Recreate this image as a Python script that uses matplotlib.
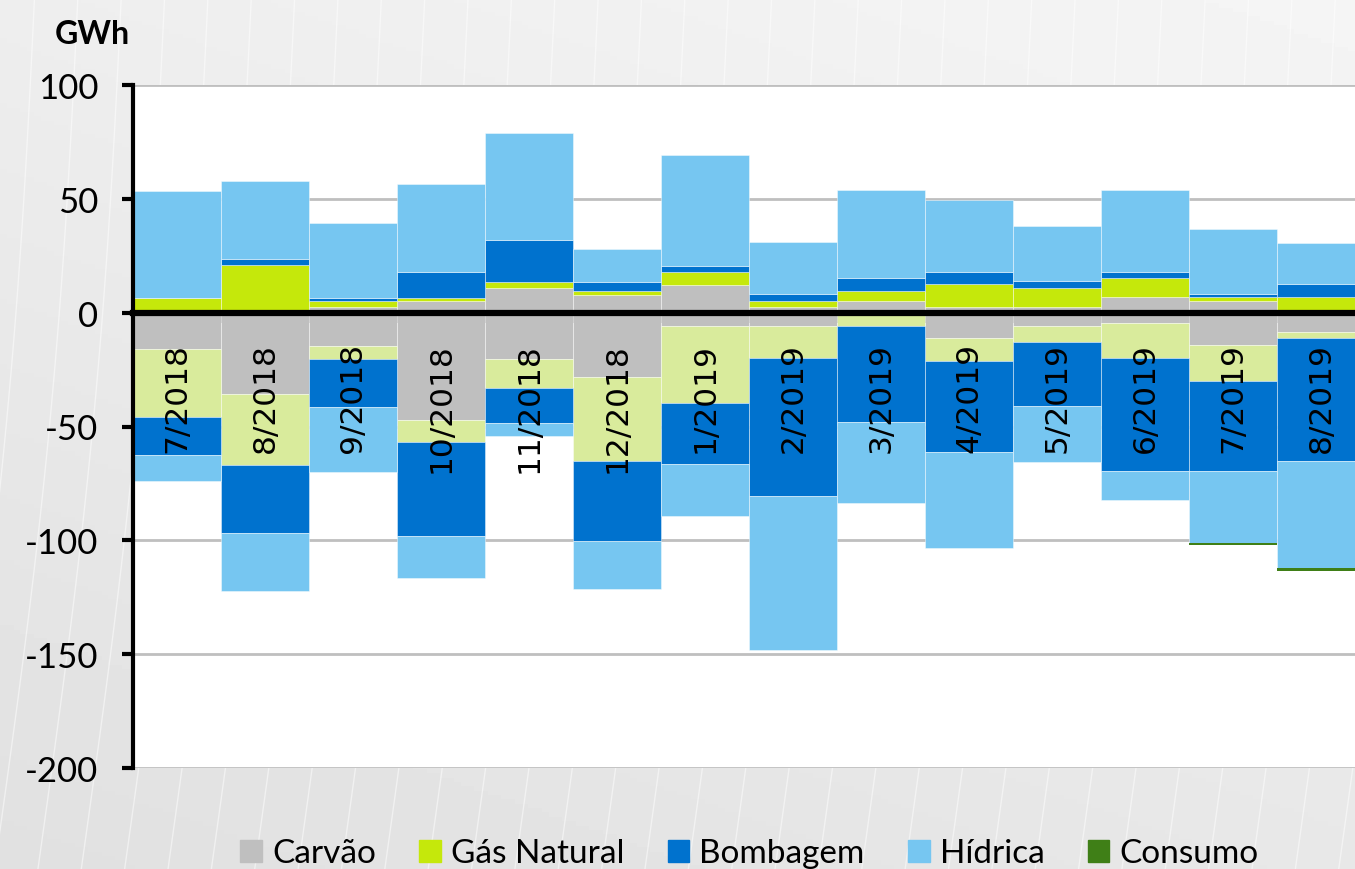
import numpy as np
import matplotlib
matplotlib.use("Agg")
import matplotlib.pyplot as plt
from matplotlib.patches import Patch

plt.rcParams["axes.unicode_minus"] = False

# Months (categories)
months = ["7/2018", "8/2018", "9/2018", "10/2018", "11/2018", "12/2018", "1/2019",
          "2/2019", "3/2019", "4/2019", "5/2019", "6/2019", "7/2019", "8/2019"]

# Positive side (GWh)
carvao_pos = [0, 0, 2.3, 5.1, 10.8, 7.9, 12.1, 2.6, 5.3, 2.5, 2.5, 6.9, 5.3, 0]
gas_pos = [6.6, 20.8, 2.8, 1.5, 2.8, 1.5, 5.7, 2.6, 4.2, 9.9, 8.5, 8.3, 1.5, 6.9]
bomb_pos = [0, 2.8, 1.5, 11.3, 18.4, 4.2, 2.8, 2.8, 5.6, 5.6, 2.8, 2.8, 1.3, 5.6]
hid_pos = [46.8, 34.2, 32.7, 38.5, 47.1, 14.2, 48.5, 23.0, 38.6, 31.4, 24.3, 35.7, 28.5, 18.3]

# Negative side (GWh)
carvao_neg = [-16.0, -35.7, -14.6, -47.0, -20.4, -28.3, -5.8, -5.8, 0, -11.3, -5.8, -4.4, -14.2, -8.4]
gas_neg = [-29.8, -31.3, -5.8, -10.0, -12.7, -37.0, -33.9, -14.2, -5.8, -9.9, -7.0, -15.7, -15.6, -2.9]
bomb_neg = [-16.7, -29.8, -21.1, -41.2, -15.4, -35.2, -26.7, -60.4, -42.2, -39.8, -28.3, -49.4, -39.7, -53.8]
hid_neg = [-11.4, -25.5, -28.4, -18.5, -5.7, -21.0, -22.8, -67.8, -35.5, -42.2, -24.3, -12.6, -31.5, -47.2]
consumo_neg = [0, 0, 0, 0, 0, 0, 0, 0, 0, 0, 0, 0, -0.9, -1.0]

# Colours
c_carvao = "#BFBFBF"
c_gas = "#C5E80B"
c_gas_neg = "#D9EB9C"
c_bomb = "#0072CE"
c_hid = "#76C6F1"
c_cons = "#3F7F17"

fig = plt.figure(figsize=(13.55, 8.7), dpi=100)

# background with a soft gradient and faint texture lines
bg = fig.add_axes([0, 0, 1, 1], zorder=-10)
gx, gy = np.meshgrid(np.linspace(0, 1, 200), np.linspace(0, 1, 200))
grad = 0.88 + 0.08 * (0.35 * gx + 0.65 * gy)
bg.imshow(grad, extent=[0, 1, 0, 1], origin="lower", cmap="gray", vmin=0, vmax=1, aspect="auto")
for x0 in np.arange(-0.1, 1.05, 0.032):
    t = np.linspace(0, 1, 50)
    bg.plot(x0 + 0.06 * t + 0.01 * np.sin(3 * t), t, color="white", lw=1.0, alpha=0.5)
bg.set_xlim(0, 1)
bg.set_ylim(0, 1)
bg.axis("off")

ax = fig.add_axes([133 / 1355, 1 - 769 / 870, 1232 / 1355, (769 - 86) / 870])
ax.set_facecolor("white")
x = np.arange(len(months))
edge = (1, 1, 1, 0.5)

# positive stack
bottom = np.zeros(len(months))
for vals, col in [(carvao_pos, c_carvao), (gas_pos, c_gas), (bomb_pos, c_bomb), (hid_pos, c_hid)]:
    ax.bar(x, vals, width=1.0, bottom=bottom, color=col, edgecolor=edge, linewidth=0.6, zorder=2)
    bottom += np.array(vals)

# negative stack
bottom = np.zeros(len(months))
for vals, col in [(carvao_neg, c_carvao), (gas_neg, c_gas_neg), (bomb_neg, c_bomb), (hid_neg, c_hid)]:
    ax.bar(x, vals, width=1.0, bottom=bottom, color=col, edgecolor=edge, linewidth=0.6, zorder=2)
    bottom += np.array(vals)
ax.bar(x, consumo_neg, width=1.0, bottom=bottom, color=c_cons, edgecolor="none", zorder=2)

ax.set_xlim(-0.5, 13.5)
ax.set_ylim(-200, 100)
ax.set_yticks(range(-200, 101, 50))
ax.yaxis.grid(True, color="#BFBFBF", linewidth=2)
ax.set_axisbelow(True)

for s in ["top", "right"]:
    ax.spines[s].set_visible(False)
ax.spines["bottom"].set_position(("data", 0))
ax.spines["bottom"].set_linewidth(4.5)
ax.spines["bottom"].set_zorder(4)
ax.spines["left"].set_linewidth(3)

ax.set_xticks(np.arange(0.5, 13, 1))
ax.tick_params(axis="x", direction="out", length=7, width=3, labelbottom=False)
ax.tick_params(axis="y", direction="out", length=8, width=3, pad=17,
               labelsize=25, labelfontfamily="Lato")

# month labels inside the plot, below the zero line
for i, m in enumerate(months):
    ax.text(i, -12.9, m, rotation=90, ha="center", va="top", fontsize=22.5,
            family="DejaVu Sans", color="black", zorder=5)

fig.text(55 / 1355, 1 - 35 / 870, "GWh", fontsize=23, fontweight="bold",
         family="Lato", va="center", ha="left")

handles = [Patch(color=c) for c in [c_carvao, c_gas, c_bomb, c_hid, c_cons]]
labels = ["Carvão", "Gás Natural", "Bombagem", "Hídrica", "Consumo"]
fig.legend(handles, labels, loc="center", bbox_to_anchor=(0.553, 0.018), ncol=5,
           frameon=False, prop={"family": "Lato", "size": 24}, handlelength=0.65,
           handleheight=0.65, handletextpad=0.3, columnspacing=1.3, borderaxespad=0)

fig.savefig("out.png", dpi=100)
